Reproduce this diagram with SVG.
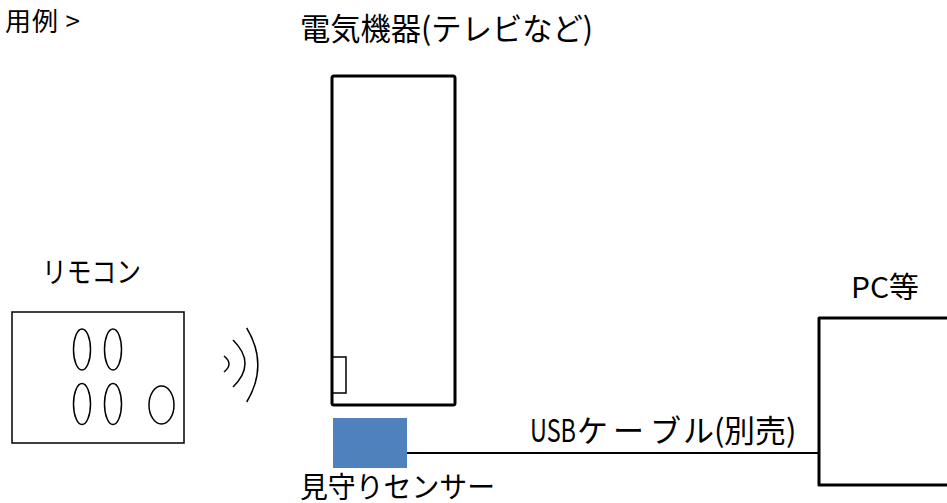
<svg xmlns="http://www.w3.org/2000/svg" width="947" height="503" viewBox="0 0 947 503">
<style>
text{font-family:"Noto Sans CJK JP","Noto Sans",sans-serif;fill:#000}
.thin{fill:none;stroke:#000;stroke-width:1.5}
.thick{fill:#fff;stroke:#000;stroke-width:3;stroke-linejoin:round}
</style>
<rect width="947" height="503" fill="#fff"/>
<text x="5" y="31" font-size="26" textLength="75" lengthAdjust="spacing">用例 &gt;</text>
<g id="remote">
<text x="42" y="283" font-size="29" textLength="99" lengthAdjust="spacingAndGlyphs">リモコン</text>
<rect class="thin" x="12" y="312" width="172" height="131"/>
<ellipse class="thin" cx="82" cy="349.5" rx="8.5" ry="20.5"/>
<ellipse class="thin" cx="113" cy="349.5" rx="8.5" ry="20.5"/>
<ellipse class="thin" cx="82" cy="404" rx="8.5" ry="20.5"/>
<ellipse class="thin" cx="113" cy="404" rx="8.5" ry="20.5"/>
<ellipse class="thin" cx="161.5" cy="405" rx="12.5" ry="19"/>
</g>
<g id="waves">
<path class="thin" d="M224,356 Q234,364 224,372"/>
<path class="thin" d="M233,340 Q257,363.5 233,387"/>
<path class="thin" d="M246.7,328 Q269,365 246.7,402"/>
</g>
<g id="tv">
<text x="300" y="40" font-size="31" textLength="293" lengthAdjust="spacingAndGlyphs">電気機器(テレビなど)</text>
<rect class="thick" x="332" y="76" width="123" height="329" rx="2"/>
<rect class="thin" x="332" y="357" width="14" height="36"/>
</g>
<g id="connectors">
<line x1="407" y1="453" x2="819" y2="453" stroke="#000" stroke-width="2"/>
<text y="442" font-size="31"><tspan x="530" textLength="46" lengthAdjust="spacingAndGlyphs">USB</tspan><tspan x="577">ケ</tspan><tspan x="613">ー</tspan><tspan x="650">ブ</tspan><tspan x="683">ル</tspan><tspan x="714">(</tspan><tspan x="724">別</tspan><tspan x="755">売</tspan><tspan x="786">)</tspan></text>
</g>
<g id="sensor">
<rect x="333" y="418" width="74" height="50" fill="#4F81BD"/>
<text x="300" y="498" font-size="29" textLength="195" lengthAdjust="spacingAndGlyphs">見守りセンサー</text>
</g>
<g id="pc">
<text x="851" y="298" font-size="29" textLength="68" lengthAdjust="spacingAndGlyphs">PC等</text>
<rect class="thick" x="819" y="318" width="150" height="167"/>
</g>
</svg>
